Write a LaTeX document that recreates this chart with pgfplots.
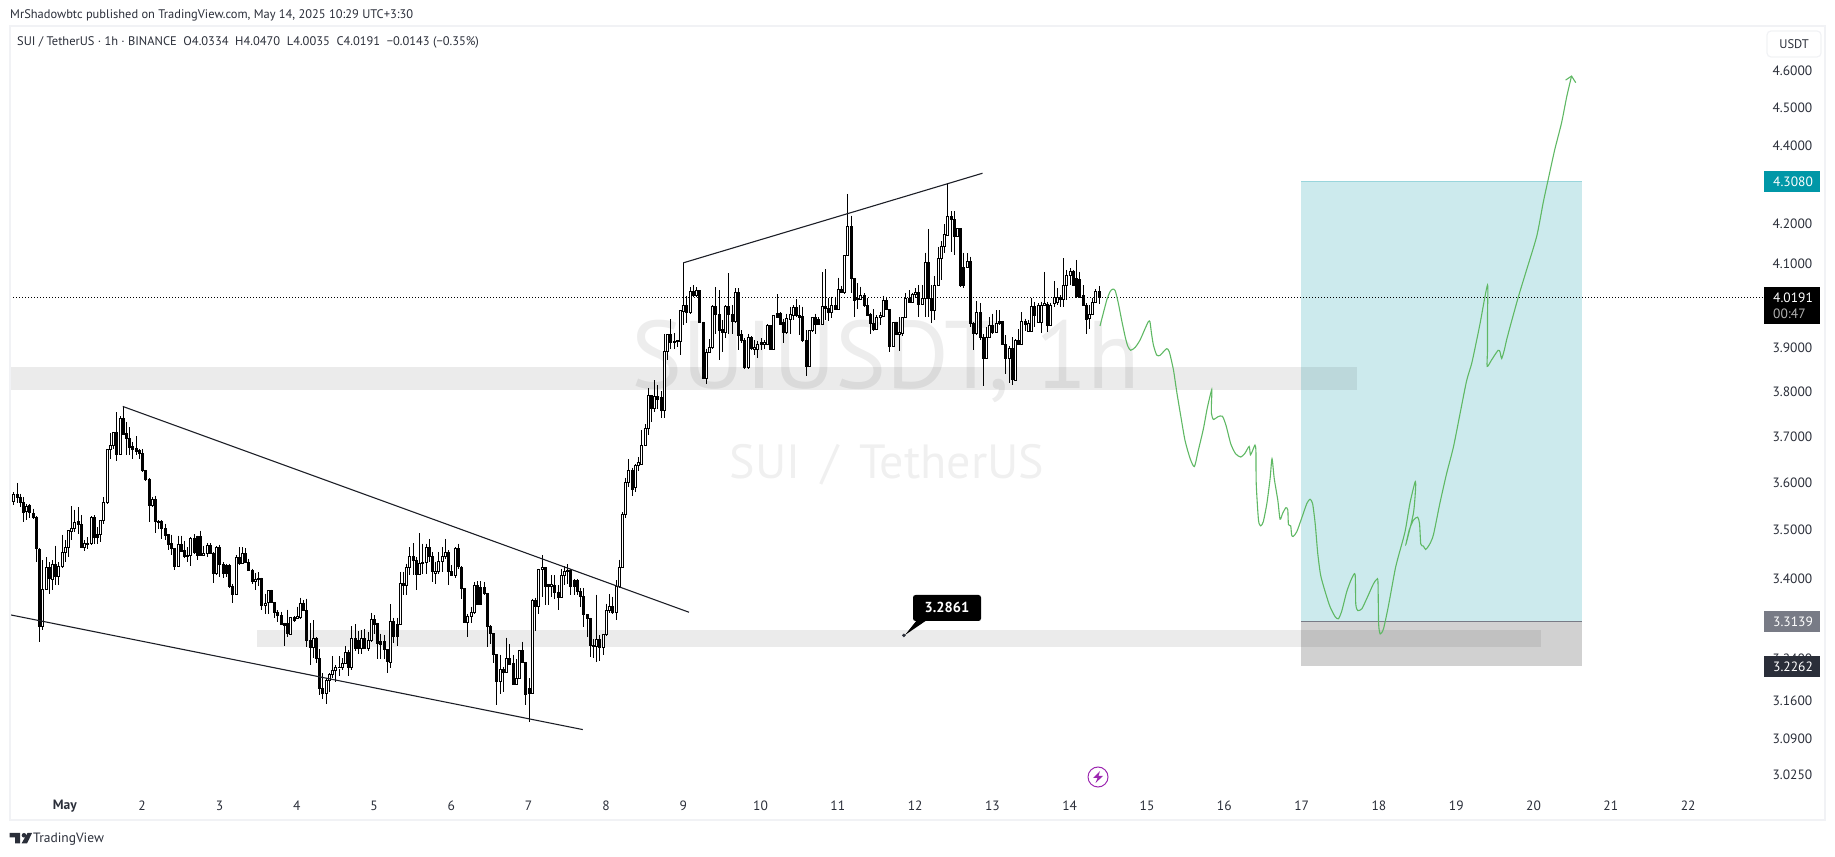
\documentclass[border=0pt]{standalone}
\usepackage{fontspec}
\usepackage{pgfplots}
\usepackage{pgfplotstable}
\pgfplotsset{compat=1.18}
\setmainfont{PT Sans}
\definecolor{teal1}{HTML}{0097A7}
\definecolor{tvline}{HTML}{1C1E26}
\definecolor{tvgreen}{HTML}{5FB864}
\definecolor{tvframe}{HTML}{F1F2F5}
\definecolor{tvgrey}{HTML}{787B86}
\definecolor{tvdark}{HTML}{2A2E39}
\definecolor{tvpurple}{HTML}{9C27B0}
\newcommand\fs[1]{\fontsize{#1}{#1}\selectfont}

% hourly candles, one row per bar, x is the row number
\pgfplotstableread{
o h l c
3.560 3.579 3.551 3.574
3.574 3.599 3.556 3.568
3.567 3.576 3.547 3.557
3.557 3.569 3.516 3.537
3.539 3.554 3.520 3.549
3.551 3.553 3.525 3.537
3.535 3.544 3.523 3.526
3.526 3.528 3.433 3.461
3.459 3.461 3.274 3.304
3.304 3.437 3.297 3.377
3.377 3.443 3.376 3.422
3.422 3.433 3.369 3.399
3.398 3.437 3.377 3.428
3.428 3.467 3.386 3.403
3.403 3.433 3.386 3.424
3.423 3.490 3.421 3.452
3.452 3.479 3.433 3.463
3.463 3.499 3.443 3.498
3.497 3.549 3.478 3.503
3.503 3.542 3.494 3.516
3.517 3.547 3.491 3.510
3.510 3.530 3.461 3.464
3.464 3.478 3.456 3.471
3.469 3.484 3.459 3.471
3.471 3.528 3.469 3.526
3.526 3.530 3.471 3.484
3.491 3.505 3.471 3.484
3.491 3.519 3.474 3.519
3.519 3.569 3.512 3.557
3.557 3.673 3.555 3.671
3.671 3.708 3.651 3.680
3.680 3.708 3.673 3.708
3.708 3.754 3.647 3.661
3.661 3.745 3.659 3.740
3.740 3.768 3.703 3.705
3.706 3.732 3.659 3.695
3.695 3.720 3.659 3.677
3.678 3.688 3.651 3.671
3.673 3.700 3.659 3.666
3.668 3.673 3.651 3.662
3.662 3.673 3.623 3.625
3.626 3.627 3.604 3.606
3.607 3.609 3.517 3.550
3.550 3.569 3.547 3.563
3.563 3.572 3.492 3.517
3.517 3.520 3.501 3.515
3.517 3.520 3.481 3.503
3.503 3.513 3.479 3.488
3.490 3.491 3.457 3.469
3.471 3.490 3.447 3.461
3.461 3.462 3.416 3.425
3.425 3.488 3.423 3.469
3.469 3.488 3.454 3.454
3.456 3.477 3.442 3.444
3.444 3.464 3.433 3.447
3.447 3.484 3.425 3.481
3.481 3.491 3.450 3.452
3.486 3.488 3.437 3.446
3.486 3.498 3.446 3.447
3.446 3.467 3.445 3.450
3.450 3.472 3.443 3.467
3.467 3.472 3.449 3.450
3.450 3.454 3.391 3.409
3.409 3.466 3.406 3.463
3.463 3.469 3.403 3.429
3.429 3.433 3.401 3.409
3.427 3.430 3.403 3.409
3.427 3.430 3.381 3.383
3.384 3.389 3.351 3.367
3.367 3.447 3.366 3.442
3.442 3.464 3.426 3.431
3.431 3.464 3.430 3.450
3.450 3.462 3.432 3.433
3.433 3.440 3.414 3.415
3.416 3.420 3.388 3.393
3.393 3.411 3.377 3.397
3.397 3.412 3.384 3.399
3.399 3.401 3.337 3.345
3.345 3.369 3.329 3.349
3.351 3.375 3.329 3.375
3.375 3.377 3.350 3.351
3.351 3.352 3.321 3.331
3.331 3.336 3.313 3.325
3.325 3.333 3.306 3.308
3.309 3.311 3.266 3.306
3.309 3.337 3.283 3.290
3.288 3.322 3.287 3.321
3.321 3.324 3.313 3.316
3.320 3.343 3.319 3.323
3.321 3.361 3.319 3.349
3.349 3.356 3.335 3.336
3.336 3.359 3.264 3.277
3.277 3.311 3.229 3.262
3.262 3.316 3.242 3.280
3.280 3.283 3.232 3.242
3.242 3.260 3.172 3.184
3.184 3.213 3.164 3.174
3.175 3.203 3.155 3.200
3.200 3.213 3.178 3.211
3.211 3.246 3.203 3.218
3.218 3.229 3.197 3.224
3.223 3.246 3.207 3.224
3.223 3.242 3.219 3.232
3.232 3.266 3.231 3.253
3.253 3.258 3.207 3.223
3.223 3.304 3.219 3.280
3.280 3.308 3.255 3.261
3.277 3.294 3.251 3.261
3.261 3.296 3.251 3.280
3.280 3.299 3.260 3.261
3.261 3.293 3.255 3.277
3.277 3.331 3.274 3.317
3.317 3.326 3.290 3.308
3.309 3.311 3.240 3.271
3.275 3.290 3.240 3.269
3.275 3.287 3.240 3.258
3.258 3.259 3.213 3.235
3.234 3.348 3.223 3.313
3.313 3.321 3.271 3.285
3.308 3.321 3.266 3.285
3.307 3.413 3.306 3.389
3.389 3.413 3.366 3.385
3.385 3.430 3.366 3.422
3.422 3.464 3.406 3.444
3.444 3.472 3.406 3.436
3.437 3.444 3.377 3.407
3.407 3.493 3.406 3.430
3.430 3.471 3.409 3.432
3.432 3.471 3.408 3.463
3.463 3.481 3.434 3.444
3.444 3.454 3.393 3.413
3.409 3.434 3.389 3.414
3.413 3.454 3.408 3.434
3.434 3.464 3.413 3.444
3.444 3.481 3.439 3.452
3.452 3.457 3.386 3.413
3.414 3.427 3.404 3.405
3.405 3.464 3.401 3.461
3.461 3.471 3.420 3.423
3.422 3.425 3.358 3.379
3.379 3.381 3.310 3.311
3.311 3.329 3.283 3.323
3.323 3.343 3.311 3.331
3.331 3.393 3.329 3.386
3.386 3.394 3.346 3.347
3.381 3.394 3.346 3.347
3.381 3.393 3.367 3.369
3.369 3.371 3.264 3.303
3.304 3.306 3.269 3.290
3.290 3.291 3.232 3.248
3.248 3.249 3.153 3.197
3.197 3.249 3.174 3.221
3.221 3.226 3.177 3.214
3.214 3.282 3.213 3.242
3.242 3.269 3.228 3.229
3.231 3.248 3.191 3.192
3.192 3.240 3.191 3.203
3.203 3.258 3.201 3.256
3.256 3.274 3.232 3.234
3.234 3.235 3.153 3.173
3.184 3.203 3.122 3.174
3.175 3.359 3.174 3.356
3.356 3.361 3.295 3.344
3.344 3.420 3.329 3.418
3.418 3.447 3.363 3.421
3.421 3.423 3.346 3.383
3.388 3.389 3.346 3.383
3.384 3.406 3.363 3.387
3.386 3.406 3.359 3.371
3.371 3.386 3.336 3.361
3.361 3.419 3.361 3.405
3.405 3.425 3.386 3.414
3.414 3.428 3.389 3.415
3.415 3.419 3.366 3.383
3.396 3.399 3.366 3.384
3.396 3.399 3.367 3.373
3.373 3.381 3.343 3.363
3.363 3.381 3.303 3.327
3.327 3.329 3.283 3.319
3.319 3.321 3.244 3.266
3.265 3.280 3.242 3.267
3.264 3.367 3.235 3.278
3.278 3.287 3.237 3.263
3.263 3.290 3.248 3.287
3.287 3.349 3.285 3.336
3.335 3.368 3.331 3.344
3.344 3.363 3.328 3.332
3.331 3.396 3.317 3.384
3.383 3.438 3.381 3.422
3.422 3.537 3.421 3.533
3.533 3.610 3.525 3.600
3.600 3.651 3.590 3.625
3.625 3.632 3.570 3.585
3.590 3.640 3.580 3.636
3.636 3.655 3.625 3.642
3.639 3.714 3.637 3.680
3.680 3.727 3.680 3.717
3.717 3.808 3.702 3.792
3.792 3.792 3.733 3.763
3.763 3.826 3.755 3.789
3.789 3.816 3.761 3.782
3.786 3.801 3.741 3.758
3.758 3.934 3.741 3.893
3.893 3.931 3.873 3.931
3.931 3.968 3.899 3.913
3.913 3.936 3.899 3.916
3.915 3.919 3.903 3.917
3.916 3.989 3.884 3.989
3.987 4.102 3.954 4.001
4.001 4.023 3.958 3.985
3.985 4.044 3.981 4.034
4.033 4.049 4.021 4.023
4.025 4.044 4.021 4.036
4.036 4.037 3.958 3.959
3.960 3.962 3.830 3.831
3.830 3.899 3.817 3.889
3.889 3.921 3.888 3.902
3.902 4.001 3.899 3.998
3.998 4.044 3.934 3.979
3.980 4.037 3.873 3.942
3.944 3.966 3.892 3.938
3.938 4.001 3.924 3.998
3.998 4.077 3.934 3.979
3.979 4.001 3.934 3.962
3.962 4.041 3.959 4.031
4.031 4.041 3.896 3.929
3.932 3.942 3.912 3.917
3.919 3.923 3.852 3.854
3.854 3.934 3.852 3.926
3.926 3.928 3.897 3.899
3.898 3.919 3.884 3.901
3.897 3.917 3.877 3.909
3.913 3.923 3.896 3.909
3.909 3.919 3.899 3.913
3.909 3.956 3.907 3.952
3.952 3.954 3.896 3.897
3.897 3.977 3.896 3.976
3.981 4.027 3.970 3.973
3.981 3.985 3.955 3.956
3.959 3.969 3.912 3.936
3.936 3.981 3.934 3.969
3.968 3.998 3.934 3.979
3.977 4.001 3.966 3.997
3.997 4.015 3.973 3.976
3.976 4.001 3.931 3.973
3.975 3.998 3.915 3.917
3.917 3.942 3.835 3.858
3.858 3.943 3.856 3.941
3.941 3.973 3.938 3.971
3.971 3.981 3.934 3.956
3.967 3.973 3.954 3.956
3.956 4.081 3.954 3.998
3.998 4.087 3.966 3.993
3.993 4.017 3.963 3.983
3.983 4.021 3.970 4.001
4.001 4.021 3.989 3.992
3.992 4.067 3.991 4.039
4.039 4.047 4.029 4.031
4.031 4.122 4.028 4.122
4.122 4.275 4.121 4.192
4.192 4.220 4.029 4.065
4.065 4.065 3.973 4.011
4.015 4.053 3.993 4.017
4.015 4.045 4.013 4.025
4.025 4.029 3.998 4.001
4.001 4.017 3.976 3.977
3.980 3.983 3.934 3.958
3.958 3.991 3.941 3.943
3.944 3.977 3.942 3.973
3.972 3.985 3.954 3.977
3.975 4.023 3.973 4.011
4.011 4.021 3.989 3.991
3.991 3.992 3.892 3.903
3.903 3.961 3.902 3.959
3.959 3.962 3.931 3.932
3.931 3.973 3.894 3.937
3.934 3.973 3.929 3.972
3.972 4.029 3.971 4.017
4.017 4.036 4.005 4.007
4.006 4.031 4.005 4.027
4.027 4.041 4.017 4.031
4.031 4.049 3.973 4.002
4.002 4.049 4.001 4.017
4.017 4.128 3.973 4.104
4.104 4.187 3.973 4.017
4.017 4.049 3.958 3.988
3.988 4.071 3.966 4.049
4.048 4.142 4.047 4.114
4.114 4.156 4.060 4.142
4.142 4.198 4.128 4.173
4.171 4.301 4.171 4.217
4.217 4.231 4.130 4.210
4.210 4.231 4.122 4.168
4.167 4.189 4.167 4.187
4.187 4.187 4.045 4.049
4.091 4.128 4.041 4.049
4.091 4.126 4.090 4.107
4.107 4.118 3.950 3.958
3.958 3.962 3.896 3.934
3.934 4.011 3.931 3.985
3.985 4.006 3.919 3.926
3.926 3.934 3.812 3.876
3.876 3.950 3.874 3.926
3.926 3.972 3.923 3.952
3.952 3.981 3.934 3.938
3.938 3.989 3.937 3.958
3.962 3.989 3.954 3.958
3.963 3.964 3.907 3.909
3.909 3.931 3.841 3.876
3.876 3.905 3.820 3.899
3.899 3.926 3.816 3.827
3.826 3.921 3.824 3.919
3.919 3.944 3.907 3.909
3.909 3.985 3.907 3.962
3.962 3.969 3.941 3.956
3.940 3.966 3.938 3.958
3.940 4.019 3.938 3.998
3.998 4.009 3.950 3.976
3.959 4.005 3.959 4.001
3.959 4.009 3.936 4.001
4.001 4.081 4.001 4.005
4.002 4.009 3.938 3.954
3.954 4.006 3.952 4.001
4.005 4.059 3.997 4.019
4.006 4.041 4.001 4.019
4.019 4.025 3.997 4.015
4.015 4.114 3.997 4.049
4.048 4.086 4.013 4.073
4.072 4.090 4.049 4.083
4.083 4.086 4.048 4.048
4.064 4.110 4.019 4.021
4.063 4.081 4.019 4.019
4.023 4.049 4.001 4.001
4.001 4.005 3.934 3.968
3.970 4.001 3.946 3.979
3.979 4.017 3.977 4.007
4.007 4.039 4.005 4.033
4.0334 4.0470 4.0035 4.0191
}\candles

% drawn projection path: bar number, price
\pgfplotstableread{
x y
337.4 3.952
338.4 3.982
339.5 4.013
340.5 4.033
341.3 4.039
342.1 4.036
343.1 4.005
344.1 3.966
345.2 3.927
346.0 3.905
346.9 3.895
348.3 3.902
349.8 3.919
351.4 3.946
352.4 3.962
352.9 3.962
353.4 3.934
354.0 3.907
355.0 3.884
356.0 3.883
357.1 3.892
358.1 3.899
358.9 3.892
360.2 3.850
361.2 3.801
362.5 3.744
363.8 3.691
365.4 3.651
366.7 3.634
367.9 3.669
369.5 3.717
370.7 3.763
372.1 3.805
372.0 3.774
372.0 3.751
372.6 3.738
374.1 3.744
375.4 3.745
376.5 3.725
378.0 3.684
379.5 3.662
381.1 3.655
382.4 3.663
383.7 3.678
384.1 3.660
385.0 3.673
385.5 3.681
385.8 3.669
385.9 3.597
386.6 3.520
387.3 3.508
388.1 3.517
389.2 3.555
390.2 3.608
390.8 3.651
391.5 3.608
392.6 3.562
393.3 3.522
394.1 3.534
395.1 3.546
395.7 3.541
395.9 3.511
396.6 3.508
396.9 3.489
397.4 3.486
398.5 3.496
400.0 3.524
401.6 3.555
402.6 3.564
403.4 3.555
404.2 3.513
405.0 3.451
405.9 3.406
407.3 3.373
408.8 3.343
410.4 3.323
411.4 3.319
412.4 3.333
414.0 3.373
415.5 3.399
416.6 3.408
416.8 3.349
417.4 3.335
418.7 3.339
420.2 3.359
422.3 3.389
423.3 3.398
423.7 3.393
423.9 3.309
424.4 3.289
425.4 3.299
426.9 3.343
429.0 3.417
430.0 3.444
432.1 3.496
433.6 3.555
435.2 3.601
435.4 3.590
434.7 3.534
432.4 3.470
433.4 3.499
434.7 3.520
436.0 3.526
436.6 3.513
437.0 3.470
437.8 3.466
438.5 3.459
439.6 3.468
440.9 3.489
442.9 3.555
445.0 3.619
447.1 3.676
449.1 3.748
451.2 3.824
452.8 3.865
454.3 3.917
455.4 3.958
457.7 4.049
457.7 3.974
457.7 3.896
457.6 3.858
459.0 3.873
461.0 3.895
461.6 3.891
462.1 3.876
462.9 3.895
463.6 3.918
464.7 3.950
467.3 4.021
469.8 4.085
473.0 4.169
475.0 4.253
476.6 4.314
478.6 4.390
480.7 4.460
482.3 4.530
483.8 4.586
}\projection

\pgfplotstablegetrowsof{\candles}
\pgfmathtruncatemacro\lastbar{\pgfplotsretval-1}

\newcommand\drawcandle[1]{%
  \pgfplotstablegetelem{#1}{o}\of\candles\let\co\pgfplotsretval
  \pgfplotstablegetelem{#1}{h}\of\candles\let\ch\pgfplotsretval
  \pgfplotstablegetelem{#1}{l}\of\candles\let\cl\pgfplotsretval
  \pgfplotstablegetelem{#1}{c}\of\candles\let\cc\pgfplotsretval
  \pgfmathsetmacro\bx{(round(13.3+3.2208*#1)+0.5-13.3)/3.2208}
  \pgfmathsetmacro\bl{\bx-0.31}
  \pgfmathsetmacro\br{\bx+0.31}
  \pgfmathparse{\cc<\co ? "black" : "white"}\edef\bfill{\pgfmathresult}
  \edef\temp{%
    \noexpand\addplot[black,line width=1pt] coordinates {(\bx,\ch)(\bx,\cl)};
    \noexpand\addplot[black,line width=1pt,fill=\bfill] coordinates {(\bl,\co)(\br,\co)(\br,\cc)(\bl,\cc)} --cycle;
  }\temp
}

\begin{document}
\begin{tikzpicture}
\useasboundingbox (0,0) rectangle (1835pt,856pt);

% watermark
\begin{scope}[x=1pt,y=-1pt,shift={(0pt,856pt)}]
\node[anchor=center,inner sep=0,text=black!7] at (886,361) {\fs{96}SUIUSDT, 1h};
\node[anchor=center,inner sep=0,text=black!6] at (887,465) {\fs{48}SUI \,/\, TetherUS};
\end{scope}

\begin{axis}[
  at={(10pt,71pt)}, anchor=south west,
  scale only axis, width=1753pt, height=759pt,
  ymode=log, ymin=3.006, ymax=4.725,
  xmin=-1.025, xmax=543.25,
  clip=true,
  axis line style={draw=none},
  major tick length=0pt, minor tick length=0pt,
  xtick={16,40,64,88,112,136,160,184,208,232,256,280,304,328,352,376,400,424,448,472,496,520},
  xticklabels={\textbf{May},2,3,4,5,6,7,8,9,10,11,12,13,14,15,16,17,18,19,20,21,22},
  ytick={4.6,4.5,4.4,4.2,4.1,3.9,3.8,3.7,3.6,3.5,3.4,3.24,3.16,3.09,3.025},
  yticklabels={4.6000,4.5000,4.4000,4.2000,4.1000,3.9000,3.8000,3.7000,3.6000,3.5000,3.4000,3.2400,3.1600,3.0900,3.0250},
  yticklabel pos=right,
  yticklabel style={anchor=west,xshift=6pt,font=\fs{13.5},text=tvdark},
  xticklabel style={font=\fs{13.5},text=tvdark,anchor=center,yshift=-21pt},
  ]
% zones
\addplot[draw=none,fill=teal1,fill opacity=0.2] coordinates {(399.8,3.3139)(487,3.3139)(487,4.3080)(399.8,4.3080)} --cycle;
\addplot[draw=none,fill=black,fill opacity=0.18] coordinates {(399.8,3.2262)(487,3.2262)(487,3.3139)(399.8,3.3139)} --cycle;
\addplot[teal1!40,line width=1pt] coordinates {(399.8,4.3080)(487,4.3080)};
\addplot[tvgrey,line width=1pt] coordinates {(399.8,3.3139)(487,3.3139)};
% support and resistance bands
\addplot[draw=none,fill=black,fill opacity=0.08] coordinates {(-1.025,3.804)(417.2,3.804)(417.2,3.856)(-1.025,3.856)} --cycle;
\addplot[draw=none,fill=black,fill opacity=0.08] coordinates {(75.7,3.264)(474.3,3.264)(474.3,3.297)(75.7,3.297)} --cycle;
% last price
\addplot[black,line width=1pt,dash pattern=on 1pt off 2pt] coordinates {(-1.025,4.0191)(543.25,4.0191)};
% candles
\pgfplotsforeachungrouped \r in {0,...,\lastbar}{\drawcandle{\r}}
% trend lines
\addplot[tvline,line width=1.1pt] coordinates {(34,3.767)(209.8,3.332)};
\addplot[tvline,line width=1.1pt] coordinates {(-1.025,3.327)(176.8,3.107)};
\addplot[tvline,line width=1.1pt] coordinates {(208,4.103)(300.9,4.328)};
% projection
\addplot[tvgreen,line width=1.1pt,smooth,tension=0.4] table[x=x,y=y] {\projection};
\addplot[tvgreen,line width=1.1pt] coordinates {(481.95,4.575)(483.8,4.586)(485.1,4.568)};
% callout anchor
\addplot[only marks,mark=*,mark size=1.6pt,tvdark] coordinates {(276.5,3.2861)};
\end{axis}

\begin{scope}[x=1pt,y=-1pt,shift={(0pt,856pt)}]
% frame
\draw[tvframe,line width=2pt] (9.5,26) rectangle (1825,820);
% header and legend
\node[anchor=west,inner sep=0,text=tvdark] at (10,15.5) {\fs{12.45}MrShadowbtc published on TradingView.com, May 14, 2025 10:29 UTC+3:30};
\node[anchor=west,inner sep=0,text=tvdark] at (17,42) {\fs{12.45}SUI / TetherUS · 1h · BINANCE\ \ O4.0334\ \ H4.0470\ \ L4.0035\ \ C4.0191\ \ −0.0143 (−0.35\%)};
% USDT button
\draw[tvframe,line width=1.2pt,rounded corners=4pt] (1767,31) rectangle (1821,57);
\node[text=tvdark,inner sep=0] at (1794,44.5) {\fs{12.5}USDT};
% price scale boxes
\fill[teal1] (1764,171) rectangle (1820,192);
\node[text=white,inner sep=0,anchor=west] at (1773,182) {\fs{13.5}4.3080};
\fill[black] (1764,287) rectangle (1820,324);
\node[text=white,inner sep=0,anchor=west] at (1773,298) {\fs{13.5}4.0191};
\node[text=black!30,inner sep=0,anchor=west] at (1773,314) {\fs{13.5}00:47};
\fill[tvgrey] (1764,611) rectangle (1820,632);
\node[text=white,inner sep=0,anchor=west] at (1773,622) {\fs{13.5}3.3139};
\fill[tvdark] (1764,656) rectangle (1820,677);
\node[text=white,inner sep=0,anchor=west] at (1773,667) {\fs{13.5}3.2262};
% callout
\fill[black,rounded corners=2.5pt] (913,595) rectangle (981,621);
\fill[black] (905,635) -- (917,620) -- (927,620) -- cycle;
\node[text=white,inner sep=0] at (947,607.5) {\fs{14.5}\textbf{3.2861}};
% lightning mark
\draw[tvpurple,line width=1pt] (1098,777) circle (10);
\fill[tvpurple] (1100,771) -- (1093,778) -- (1097.5,778) -- (1095.5,783) -- (1103,776) -- (1098.5,776) -- cycle;
% TradingView logo
\fill[tvdark] (9.5,833) -- (20,833) -- (20,843.5) -- (15,843.5) -- (15,837.5) -- (9.5,837.5) -- cycle;
\fill[tvdark] (24,835.3) circle (2.3);
\fill[tvdark] (27.5,833) -- (32,833) -- (27,843.5) -- (21.5,843.5) -- cycle;
\node[anchor=west,inner sep=0,text=tvdark] at (33,839) {\fs{13.5}TradingView};
\end{scope}
\end{tikzpicture}
\end{document}
